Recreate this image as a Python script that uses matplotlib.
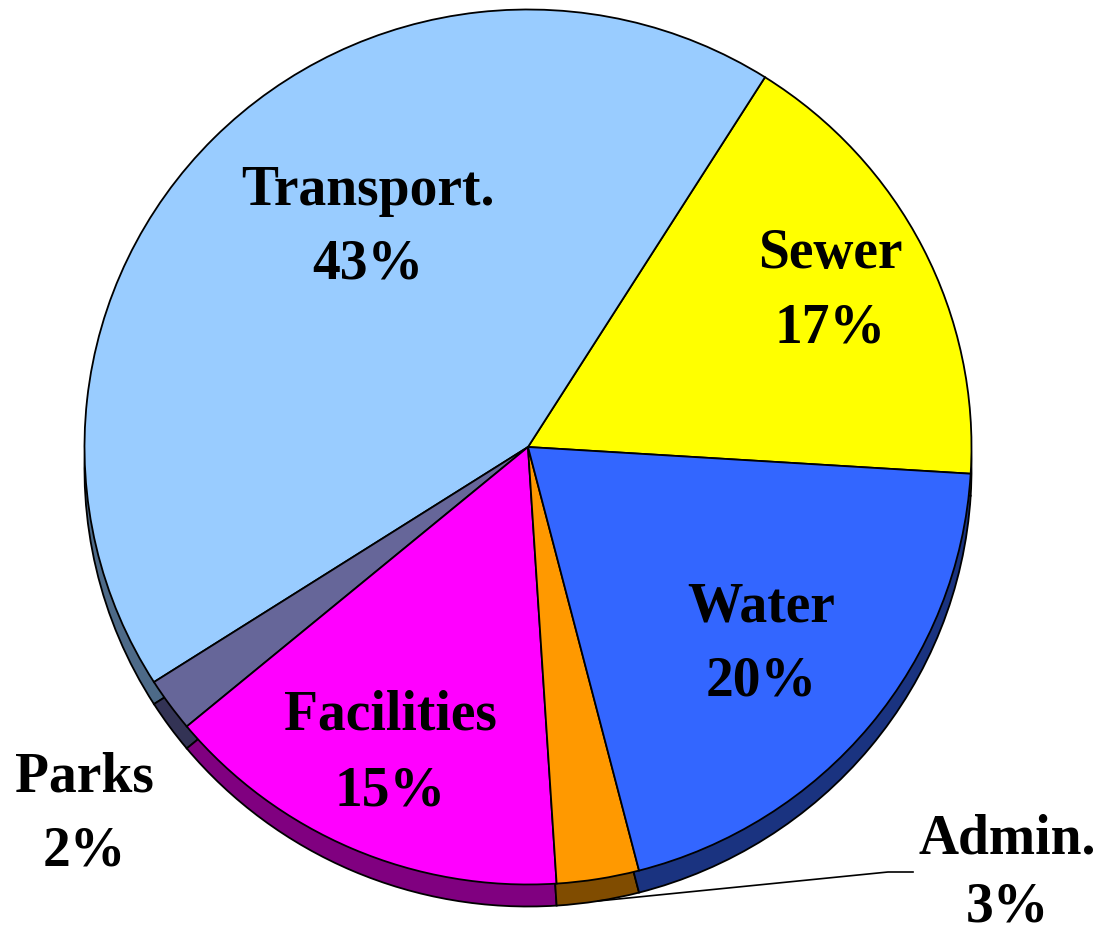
import numpy as np
import matplotlib
matplotlib.use("Agg")
import matplotlib.pyplot as plt

# Data (counter-clockwise from the Sewer/Water boundary)
categories = ["Sewer", "Transport.", "Parks", "Facilities", "Admin.", "Water"]
shares = [17, 43, 2, 15, 3, 20]
top_colors = ["#FFFF00", "#99CCFF", "#666699", "#FF00FF", "#FF9900", "#3366FF"]
side_colors = ["#808000", "#4D6A88", "#333355", "#800080", "#804C00", "#1A3380"]

# Layout in pixel space of the 1101x932 image
W, H = 1101, 932
CX, CY, RX, RY = 528, 447, 443.5, 437.5
DEPTH = 22
# (centre x, baseline of the name line, baseline of the percent line) per label
label_pos = {
    "Sewer": (830, 268, 342),
    "Transport.": (368, 205, 278),
    "Parks": (84, 792, 865),
    "Facilities": (390, 730, 805),
    "Admin.": (1007, 853, 921),
    "Water": (761, 621, 695),
}
START = -3.5


def px(x, y):
    """Pixel coordinates -> data coordinates."""
    return (x - CX) / RX, (CY - y) / RY


fig = plt.figure(figsize=(W / 100, H / 100), dpi=100)
ax = fig.add_axes([0, 0, 1, 1])

edge = dict(edgecolor="black", linewidth=1.3)

# side wall: same pie shifted down in darker colours
ax.pie(shares, colors=side_colors, startangle=START, counterclock=True,
       center=(0, -DEPTH / RY), radius=1.0, wedgeprops=edge, frame=True)
# top face
ax.pie(shares, colors=top_colors, startangle=START, counterclock=True,
       center=(0, 0), radius=1.0, wedgeprops=edge, frame=True)
ax.set_xlim(-CX / RX, (W - CX) / RX)
ax.set_ylim((CY - H) / RY, CY / RY)
ax.set_aspect("auto")
ax.axis("off")

font = dict(family="Liberation Serif", weight="bold", size=40, color="black",
            ha="center", va="baseline")
for name, val in zip(categories, shares):
    x, y_name, y_pct = label_pos[name]
    ax.text(*px(x, y_name), name, **font)
    ax.text(*px(x, y_pct), f"{val}%", **font)

# leader line for Admin. from the middle of its side wall
cum = np.cumsum([0] + shares)
i = categories.index("Admin.")
mid = np.deg2rad(START + 3.6 * (cum[i] + cum[i + 1]) / 2)
x0, y0 = np.cos(mid), np.sin(mid) - DEPTH / RY
x1, y1 = px(888, 872)
x2, y2 = px(913, 872)
ax.plot([x0, x1, x2], [y0, y1, y2], color="black", linewidth=1.2)

fig.savefig("out.png", dpi=100)
